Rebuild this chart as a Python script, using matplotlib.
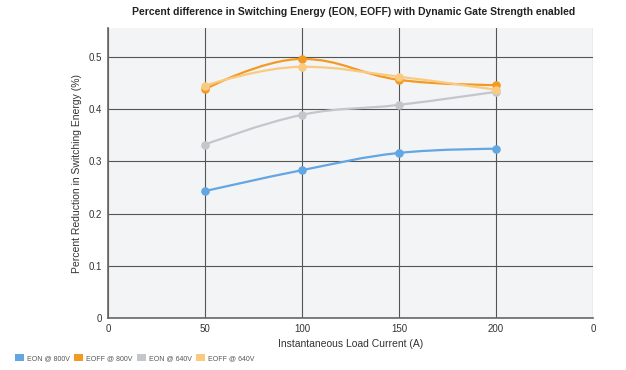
import matplotlib
matplotlib.use("Agg")
import matplotlib.pyplot as plt
from matplotlib.path import Path
from matplotlib.patches import PathPatch, Patch
import numpy as np

plt.rcParams['font.family'] = ['Liberation Sans', 'DejaVu Sans']

currents = [50, 100, 150, 200]
eon_800 = [0.243, 0.283, 0.316, 0.324]
eoff_800 = [0.438, 0.496, 0.456, 0.446]
eon_640 = [0.332, 0.389, 0.408, 0.433]
eoff_640 = [0.445, 0.481, 0.462, 0.437]
series_names = ["EON @ 800V", "EOFF @ 800V", "EON @ 640V", "EOFF @ 640V"]
colors = ["#62a6e2", "#f29a24", "#c3c7cb", "#f9ca7f"]
xticks = [0, 50, 100, 150, 200, 250]
xticklabels = ["0", "50", "100", "150", "200", "0"]
yticks = [0, 0.1, 0.2, 0.3, 0.4, 0.5]
yticklabels = ["0", "0.1", "0.2", "0.3", "0.4", "0.5"]


def spline_path(xs, ys, smoothing=1.5):
    xs = list(map(float, xs)); ys = list(map(float, ys))
    n = len(xs)
    verts = [(xs[0], ys[0])]
    codes = [Path.MOVETO]
    conts = []
    for i in range(n):
        if 0 < i < n - 1:
            d = smoothing + 1
            lx = (smoothing * xs[i] + xs[i - 1]) / d
            ly = (smoothing * ys[i] + ys[i - 1]) / d
            rx = (smoothing * xs[i] + xs[i + 1]) / d
            ry = (smoothing * ys[i] + ys[i + 1]) / d
            if rx != lx:
                corr = ((ry - ly) * (rx - xs[i])) / (rx - lx) + ys[i] - ry
                ly += corr; ry += corr
            if ly > ys[i - 1] and ly > ys[i]:
                ly = max(ys[i - 1], ys[i]); ry = 2 * ys[i] - ly
            elif ly < ys[i - 1] and ly < ys[i]:
                ly = min(ys[i - 1], ys[i]); ry = 2 * ys[i] - ly
            if ry > ys[i + 1] and ry > ys[i]:
                ry = max(ys[i + 1], ys[i]); ly = 2 * ys[i] - ry
            elif ry < ys[i + 1] and ry < ys[i]:
                ry = min(ys[i + 1], ys[i]); ly = 2 * ys[i] - ry
            conts.append(((lx, ly), (rx, ry)))
        else:
            conts.append(((xs[i], ys[i]), (xs[i], ys[i])))
    for i in range(1, n):
        verts += [conts[i - 1][1], conts[i][0], (xs[i], ys[i])]
        codes += [Path.CURVE4] * 3
    return Path(verts, codes)


fig = plt.figure(figsize=(6.26, 3.70), dpi=100)
fig.patch.set_facecolor("white")
ax = fig.add_axes([0.1725, 0.1405, 0.7745, 0.7835])
ax.set_facecolor("#f3f4f6")

ax.set_xlim(0, 250)
ax.set_ylim(0, 0.555)
ax.set_xticks(xticks)
ax.set_xticklabels(xticklabels)
ax.set_yticks(yticks)
ax.set_yticklabels(yticklabels)
ax.grid(True, color="#555555", linewidth=0.8, zorder=0)
ax.set_axisbelow(True)
for s in ["top", "right"]:
    ax.spines[s].set_visible(False)
ax.spines["left"].set_color("#666666")
ax.spines["bottom"].set_color("#666666")
ax.spines["left"].set_linewidth(1.2)
ax.spines["bottom"].set_linewidth(1.2)
ax.tick_params(length=0, labelsize=7, colors="#333333", pad=4)

data = [eon_800, eoff_800, eon_640, eoff_640]
for vals, c in zip(data, colors):
    p = spline_path(currents, vals)
    ax.add_patch(PathPatch(p, facecolor="none", edgecolor=c, linewidth=1.6, zorder=3))
    ax.scatter(currents, vals, s=38, color=c, zorder=4, linewidths=0)

ax.set_xlabel("Instantaneous Load Current (A)", fontsize=7.5, color="#333333", labelpad=4)
ax.set_ylabel("Percent Reduction in Switching Energy (%)", fontsize=7.5, color="#333333", labelpad=5)
fig.text(0.565, 0.968, "Percent difference in Switching Energy (EON, EOFF) with Dynamic Gate Strength enabled",
         ha="center", va="center", fontsize=7.5, fontweight="bold", color="#222222")

handles = [Patch(facecolor=c, edgecolor="none") for c in colors]
fig.legend(handles, series_names, loc="lower left", bbox_to_anchor=(0.014, 0.005), ncol=4,
           frameon=False, fontsize=5, handlelength=1.25, handleheight=1.25, handletextpad=0.5,
           columnspacing=0.6, labelcolor="#555555")

fig.savefig("out.png", dpi=100)
